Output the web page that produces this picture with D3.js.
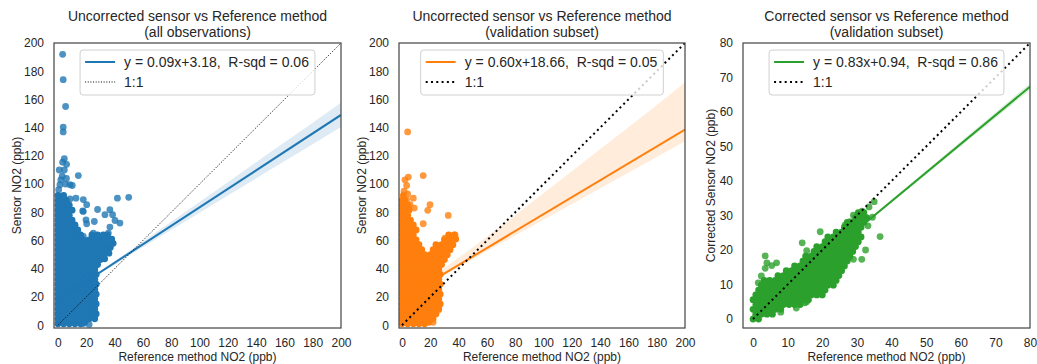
<!DOCTYPE html>
<html>
<head>
<meta charset="utf-8">
<script src="https://cdn.jsdelivr.net/npm/d3@7"></script>
<style>
  body { margin: 0; background: #fff; }
  text { font-family: "Liberation Sans", Arial, sans-serif; fill: #262626; }
</style>
</head>
<body>
<svg id="fig" width="1037" height="364"></svg>
<script>
// ---------- data ----------
const ticks200 = [0, 20, 40, 60, 80, 100, 120, 140, 160, 180, 200];
const ticks80 = [0, 10, 20, 30, 40, 50, 60, 70, 80];

const titleLines = [
  ["Uncorrected sensor vs Reference method", "(all observations)"],
  ["Uncorrected sensor vs Reference method", "(validation subset)"],
  ["Corrected sensor vs Reference method", "(validation subset)"]
];
const xLabels = ["Reference method NO2 (ppb)", "Reference method NO2 (ppb)", "Reference method NO2 (ppb)"];
const yLabels = ["Sensor NO2 (ppb)", "Sensor NO2 (ppb)", "Corrected Sensor NO2 (ppb)"];
const fitLabels = [
  "y = 0.09x+3.18,  R-sqd = 0.06",
  "y = 0.60x+18.66,  R-sqd = 0.05",
  "y = 0.83x+0.94,  R-sqd = 0.86"
];
const oneToOneLabel = "1:1";
const seriesColors = ["#1f77b4", "#ff7f0e", "#2ca02c"];

// fitted regression lines as drawn
const fitSlope = [0.655, 0.60, 0.83];
const fitIntercept = [18.0, 18.66, 0.94];

// confidence band of each fit
const bandX1 = [0, 25, 50, 75, 100, 125, 150, 175, 200];
const bandLo1 = [16.5, 33.6, 49.2, 64.5, 79.7, 94.9, 110.1, 125.2, 140.4];
const bandHi1 = [19.5, 35.2, 52.3, 69.7, 87.3, 104.9, 122.5, 140.0, 157.6];
const bandX2 = [0, 25, 50, 75, 100, 125, 150, 175, 200];
const bandLo2 = [16.5, 32.5, 46.8, 60.8, 74.8, 88.6, 102.5, 116.4, 130.3];
const bandHi2 = [21.0, 37.0, 55.0, 74.0, 93.5, 113.0, 132.5, 152.0, 172.0];
const bandX3 = [0, 20, 40, 60, 80];
const bandLo3 = [0.64, 17.34, 33.74, 50.04, 66.34];
const bandHi3 = [1.24, 17.74, 34.54, 51.44, 68.34];

// observations: [reference NO2, sensor NO2]
// dense cores, where many readings stack on top of one another
const allObsCore = [
  [0,1],[4,1],[8,1],[12,1],[16,1],[19,2],
  [0,4.5],[2,4.5],[6,4.5],[10,4.5],[14,4.5],[18,4.5],[22,4.5],[26,4.5],
  [0,8],[4,8],[8,8],[12,8],[16,8],[20,8],[24,8],[27,8],
  [0,11.5],[2,11.5],[6,11.5],[10,11.5],[14,11.5],[18,11.5],[22,11.5],[26,11.5],
  [0,15],[4,15],[8,15],[12,15],[16,15],[20,15],[24,15],[27,15],
  [0,18.5],[2,18.5],[6,18.5],[10,18.5],[14,18.5],[18,18.5],[22,18.5],[26,18.5],
  [0,22],[4,22],[8,22],[12,22],[16,22],[20,22],[24,22],[27,22],
  [0,25.5],[2,25.5],[6,25.5],[10,25.5],[14,25.5],[18,25.5],[22,25.5],[26,25.5],
  [0,29],[4,29],[8,29],[12,29],[16,29],[20,29],[24,29],[27,29],
  [0,32.5],[2,32.5],[6,32.5],[10,32.5],[14,32.5],[18,32.5],[22,32.5],[26,32.5],
  [0,36],[4,36],[8,36],[12,36],[16,36],[20,36],[24,36],[27,36],
  [0,39.5],[2,39.5],[6,39.5],[10,39.5],[14,39.5],[18,39.5],[22,39.5],[26,39.5],
  [0,43],[4,43],[8,43],[12,43],[16,43],[20,43],[24,43],[28,43],
  [0,46.5],[2,46.5],[6,46.5],[10,46.5],[14,46.5],[18,46.5],[22,46.5],[26,46.5],[30,46.5],[33,47],
  [0,50],[4,50],[8,50],[12,50],[16,50],[20,50],[24,50],[28,50],[32,50],[36,51],
  [0,53.5],[2,53.5],[6,53.5],[10,53.5],[14,53.5],[18,53.5],[22,53.5],[26,53.5],[30,53.5],[34,53.5],[37,55],
  [0,57],[4,57],[8,57],[12,57],[16,57],[20,57],[24,57],[28,57],[32,57],[36,57],[39,58],
  [0,60.5],[2,60.5],[6,60.5],[10,60.5],[14,60.5],[18,60.5],[22,60.5],[26,60.5],[30,60.5],[34,60.5],[38,61],
  [0,64],[4,64],[8,64],[12,64],[16,64],[24,64],[28,64],[32,64],[35,64],
  [0,67.5],[2,67.5],[6,67.5],[10,67.5],[14,67.5],
  [0,71],[4,71],[8,71],[12,71],
  [0,74.5],[2,74.5],[6,74.5],[10,74.5],
  [0,78],[4,78],[8,78],
  [0,81.5],[2,81.5],[6,81.5],[10,81.5],
  [0,85],[4,85],[8,85],
  [0,88.5],[2,88.5],[6,88.5],
  [0,92],[4,92]
];
const allObsSpread = [
  [3.3,192],[3.7,174],[5.4,155],[3.7,140.4],[3.7,137],[4.5,118],[3.3,115.5],[6.1,114],
  [0.9,110],[4.5,110],[3,105.6],[1.4,99.6],[5.4,100],[8.5,99.6],[10.1,99],[14.4,106],
  [2,103],[6,104],[0.5,96],[42,90],[50,90.6],[12.7,90],[8.5,89.5],[17.9,89],[20.3,85.4],
  [17.5,81],[17.9,80.6],[19.8,74.7],[28,82],[36.7,81.9],[33.2,78.3],[38.6,78.3],[40.3,74.2],
  [43.8,72.4],[36.7,69.5],[25.7,73.5],[20.3,71.9],[12,70.5],[35.6,65.3],[25,65.3],[17.9,62.9],
  [32,62.9],[25,8.3],[17.9,1.2],[26,7.8],[22,0.5]
];

const valRawCore = [
  [0,1],[4,1],[8,1],[12,1],[16,1],[19,2],
  [0,4.5],[2,4.5],[6,4.5],[10,4.5],[14,4.5],[18,4.5],[22,4.5],
  [0,8],[4,8],[8,8],[12,8],[16,8],[20,8],[24,8],
  [0,11.5],[2,11.5],[6,11.5],[10,11.5],[14,11.5],[18,11.5],[22,11.5],[26,11.5],
  [0,15],[4,15],[8,15],[12,15],[16,15],[20,15],[24,15],[27,15],
  [0,18.5],[2,18.5],[6,18.5],[10,18.5],[14,18.5],[18,18.5],[22,18.5],[26,18.5],
  [0,22],[4,22],[8,22],[12,22],[16,22],[20,22],[24,22],[27,22],
  [0,25.5],[2,25.5],[6,25.5],[10,25.5],[14,25.5],[18,25.5],[22,25.5],[26,25.5],
  [0,29],[4,29],[8,29],[12,29],[16,29],[20,29],[24,29],[27,29],
  [0,32.5],[2,32.5],[6,32.5],[10,32.5],[14,32.5],[18,32.5],[22,32.5],[26,32.5],
  [0,36],[4,36],[8,36],[12,36],[16,36],[20,36],[24,36],[27,36],
  [0,39.5],[2,39.5],[6,39.5],[10,39.5],[14,39.5],[18,39.5],[22,39.5],[26,39.5],
  [0,43],[4,43],[8,43],[12,43],[16,43],[20,43],[24,43],[28,43],
  [0,46.5],[2,46.5],[6,46.5],[10,46.5],[14,46.5],[18,46.5],[22,46.5],[26,46.5],[30,46.5],
  [0,50],[4,50],[8,50],[12,50],[16,50],[20,50],[24,50],[28,50],[32,50],
  [0,53.5],[2,53.5],[6,53.5],[10,53.5],[14,53.5],[22,53.5],[26,53.5],[30,53.5],[34,53.5],
  [0,57],[4,57],[8,57],[12,57],[24,57],[28,57],[32,57],[36,57],
  [0,60.5],[2,60.5],[6,60.5],[10,60.5],[30,60.5],[34,60.5],[38,61],
  [0,64],[4,64],[8,64],[33,64],[37,64],
  [0,67.5],[2,67.5],[6,67.5],[10,67.5],
  [0,71],[4,71],[8,71],
  [0,74.5],[2,74.5],[6,74.5],
  [0,78],[4,78],
  [0,81.5],[2,81.5],[5,81.5],
  [0,85],[4,85],
  [0,88.5],[2,88.5],
  [1,92]
];
const valRawSpread = [
  [4,137],[4.5,105],[2.1,103],[3.3,99],[15,106],[3.3,89],[8,90],[5.7,85.4],[8.7,83],
  [19.8,85.4],[18.2,81.4],[32.7,77.8],[15,71.9],[37.5,64],[30.4,61.7],[25.7,10.7],
  [18.6,3.6],[22,2],[1.5,95],[4,93]
];

const valCorrCore = [
  [0,0],[1.6,0],
  [0.8,1.4],[2.4,1.4],[4,1.4],[5.6,1.4],
  [0,2.8],[1.6,2.8],[3.2,2.8],[4.8,2.8],[6.4,2.8],[8,2.8],
  [0.8,4.2],[2.4,4.2],[4,4.2],[5.6,4.2],[7.2,4.2],[8.8,4.2],[10.4,4.2],[12,4.2],[13.6,4.2],
  [0,5.6],[1.6,5.6],[3.2,5.6],[4.8,5.6],[6.4,5.6],[8,5.6],[9.6,5.6],[11.2,5.6],[12.8,5.6],[14.4,5.6],[16,5.6],
  [0.8,7],[2.4,7],[4,7],[5.6,7],[7.2,7],[8.8,7],[10.4,7],[12,7],[13.6,7],[15.2,7],[16.8,7],[18.4,7],[20,7],
  [1.6,8.4],[3.2,8.4],[4.8,8.4],[6.4,8.4],[8,8.4],[9.6,8.4],[11.2,8.4],[12.8,8.4],[14.4,8.4],[16,8.4],[17.6,8.4],[19.2,8.4],[20.8,8.4],
  [2.4,9.8],[4,9.8],[5.6,9.8],[7.2,9.8],[8.8,9.8],[10.4,9.8],[12,9.8],[13.6,9.8],[15.2,9.8],[16.8,9.8],[18.4,9.8],[20,9.8],[21.6,9.8],[23.2,9.8],
  [3.2,11.2],[4.8,11.2],[6.4,11.2],[8,11.2],[9.6,11.2],[11.2,11.2],[12.8,11.2],[14.4,11.2],[16,11.2],[17.6,11.2],[19.2,11.2],[20.8,11.2],[22.4,11.2],[24,11.2],
  [7.2,12.6],[8.8,12.6],[10.4,12.6],[12,12.6],[13.6,12.6],[15.2,12.6],[16.8,12.6],[18.4,12.6],[20,12.6],[21.6,12.6],[23.2,12.6],[24.8,12.6],
  [9.6,14],[11.2,14],[12.8,14],[14.4,14],[16,14],[17.6,14],[19.2,14],[20.8,14],[22.4,14],[24,14],[25.6,14],
  [12,15.4],[13.6,15.4],[15.2,15.4],[16.8,15.4],[18.4,15.4],[20,15.4],[21.6,15.4],[23.2,15.4],[24.8,15.4],[26.4,15.4],
  [14.4,16.8],[16,16.8],[17.6,16.8],[19.2,16.8],[20.8,16.8],[22.4,16.8],[24,16.8],[25.6,16.8],[27.2,16.8],
  [15.2,18.2],[16.8,18.2],[18.4,18.2],[20,18.2],[21.6,18.2],[23.2,18.2],[24.8,18.2],[26.4,18.2],[28,18.2],
  [17.6,19.6],[19.2,19.6],[20.8,19.6],[22.4,19.6],[24,19.6],[25.6,19.6],[27.2,19.6],[28.8,19.6],
  [18.4,21],[20,21],[21.6,21],[23.2,21],[24.8,21],[26.4,21],[28,21],[29.6,21],
  [20.8,22.4],[22.4,22.4],[24,22.4],[25.6,22.4],[27.2,22.4],[28.8,22.4],[30.4,22.4],
  [21.6,23.8],[23.2,23.8],[24.8,23.8],[26.4,23.8],[28,23.8],[29.6,23.8],[31.2,23.8],
  [24,25.2],[25.6,25.2],[27.2,25.2],[28.8,25.2],[30.4,25.2],
  [26.4,26.6],[28,26.6],[29.6,26.6],[31.2,26.6],
  [27.2,28],[28.8,28],[30.4,28],[32,28],
  [29.6,29.4],[31.2,29.4],[32.8,29.4],
  [30.4,30.8],[32,30.8]
];
const valCorrSpread = [
  [3.5,18.3],[4,16.3],[6.8,16.3],[3.5,14.7],[5.4,15.5],[2.4,12.5],[1.5,10.5],[14.2,22.1],
  [19.4,25.3],[15.5,19.8],[36.7,23.9],[29,22.9],[26.1,16.1],[29,17.3],[31.4,17.3],[27.5,17.6],
  [25.6,21],[24.2,15.2],[21.8,10.3],[21.3,10.3],[15.5,5],[15,4.7],[26.6,27.2],[28,28.2],
  [29,30.1],[31.5,31.3],[33.5,32.5],[35,34],[34.5,29.5],[33.2,27],[32.5,20],[12.5,3.2],[8,2]
];

// ---------- layout ----------
const frameTop = 43, frameBottom = 328;
const panels = [
  { left: 54, right: 341, xDom: [-2.8, 200], yDom: [-2, 200], ticks: ticks200,
    core: allObsCore, spread: allObsSpread, bandX: bandX1, bandLo: bandLo1, bandHi: bandHi1,
    oneMax: 200, oneWidth: 1, yLabelOff: 37 },
  { left: 399, right: 685, xDom: [-2.1, 200], yDom: [-2, 200], ticks: ticks200,
    core: valRawCore, spread: valRawSpread, bandX: bandX2, bandLo: bandLo2, bandHi: bandHi2,
    oneMax: 200, oneWidth: 2, yLabelOff: 37 },
  { left: 743, right: 1030, xDom: [-2.9, 80], yDom: [-2.6, 80], ticks: ticks80,
    core: valCorrCore, spread: valCorrSpread, bandX: bandX3, bandLo: bandLo3, bandHi: bandHi3,
    oneMax: 80, oneWidth: 2, yLabelOff: 32 }
];

const svg = d3.select("#fig");
const defs = svg.append("defs");
const R = 3.4;

panels.forEach((p, i) => {
  const color = seriesColors[i];
  const x = d3.scaleLinear().domain(p.xDom).range([p.left, p.right]);
  const y = d3.scaleLinear().domain(p.yDom).range([frameBottom, frameTop]);
  const cx = (p.left + p.right) / 2;

  defs.append("clipPath").attr("id", "clip" + i)
    .append("rect").attr("x", p.left).attr("y", frameTop)
    .attr("width", p.right - p.left).attr("height", frameBottom - frameTop);

  const plot = svg.append("g").attr("clip-path", `url(#clip${i})`);

  // scatter: stacked core readings saturate, isolated ones stay translucent
  plot.append("g").selectAll("circle").data(p.core).join("circle")
    .attr("cx", d => x(d[0])).attr("cy", d => y(d[1])).attr("r", R)
    .attr("fill", color);
  plot.append("g").selectAll("circle").data(p.spread).join("circle")
    .attr("cx", d => x(d[0])).attr("cy", d => y(d[1])).attr("r", R)
    .attr("fill", color).attr("fill-opacity", 0.8);

  // confidence band
  const bandData = p.bandX.map((v, k) => [v, p.bandLo[k], p.bandHi[k]]);
  plot.append("path").datum(bandData)
    .attr("d", d3.area().x(d => x(d[0])).y0(d => y(d[1])).y1(d => y(d[2])))
    .attr("fill", color).attr("fill-opacity", 0.15);

  // regression line
  const xEnd = p.xDom[1];
  plot.append("line")
    .attr("x1", x(0)).attr("y1", y(fitIntercept[i]))
    .attr("x2", x(xEnd)).attr("y2", y(fitSlope[i] * xEnd + fitIntercept[i]))
    .attr("stroke", color).attr("stroke-width", 2);

  // 1:1 line
  const dash = p.oneWidth === 1 ? "1,1.65" : "2,3.3";
  plot.append("line")
    .attr("x1", x(0)).attr("y1", y(0)).attr("x2", x(p.oneMax)).attr("y2", y(p.oneMax))
    .attr("stroke", "#000").attr("stroke-width", p.oneWidth).attr("stroke-dasharray", dash);

  // frame
  svg.append("rect").attr("x", p.left).attr("y", frameTop)
    .attr("width", p.right - p.left).attr("height", frameBottom - frameTop)
    .attr("fill", "none").attr("stroke", "#4a4a4a").attr("stroke-width", 1.25);

  // axes
  const fmt = d3.format("d");
  const gx = svg.append("g").attr("transform", `translate(0,${frameBottom})`)
    .call(d3.axisBottom(x).tickValues(p.ticks).tickFormat(fmt).tickSize(0).tickPadding(10));
  const gy = svg.append("g").attr("transform", `translate(${p.left},0)`)
    .call(d3.axisLeft(y).tickValues(p.ticks).tickFormat(fmt).tickSize(0).tickPadding(10));
  [gx, gy].forEach(g => {
    g.select(".domain").remove();
    g.selectAll("text").attr("font-size", 12).attr("fill", "#333")
      .attr("font-family", "Liberation Sans, Arial, sans-serif");
  });

  // axis labels
  svg.append("text").attr("x", cx).attr("y", 360.5).attr("text-anchor", "middle")
    .attr("font-size", 12).text(xLabels[i]);
  svg.append("text")
    .attr("transform", `translate(${p.left - p.yLabelOff},${(frameTop + frameBottom) / 2}) rotate(-90)`)
    .attr("text-anchor", "middle").attr("dy", "0.35em").attr("font-size", 12).text(yLabels[i]);

  // title
  svg.append("text").attr("x", cx).attr("y", 21).attr("text-anchor", "middle")
    .attr("font-size", 14).text(titleLines[i][0]);
  svg.append("text").attr("x", cx).attr("y", 36.5).attr("text-anchor", "middle")
    .attr("font-size", 14).text(titleLines[i][1]);

  // legend
  const lg = svg.append("g");
  const box = lg.append("rect").attr("y", 50).attr("height", 45).attr("rx", 3)
    .attr("fill", "#fff").attr("fill-opacity", 0.8).attr("stroke", "#d0d0d0").attr("stroke-width", 1);
  const t1 = lg.append("text").attr("y", 66.5).attr("font-size", 14)
    .style("white-space", "pre").text(fitLabels[i]);
  const t2 = lg.append("text").attr("y", 86.5).attr("font-size", 14).text(oneToOneLabel);
  const tw = Math.max(t1.node().getComputedTextLength(), t2.node().getComputedTextLength());
  const bw = 5 + 30 + 9 + tw + 6;
  const bx = cx - bw / 2;
  box.attr("x", bx).attr("width", bw);
  t1.attr("x", bx + 44);
  t2.attr("x", bx + 44);
  lg.append("line").attr("x1", bx + 5).attr("x2", bx + 35).attr("y1", 62).attr("y2", 62)
    .attr("stroke", color).attr("stroke-width", 2);
  lg.append("line").attr("x1", bx + 5).attr("x2", bx + 35).attr("y1", 82).attr("y2", 82)
    .attr("stroke", "#000").attr("stroke-width", p.oneWidth).attr("stroke-dasharray", dash);
});
</script>
</body>
</html>
